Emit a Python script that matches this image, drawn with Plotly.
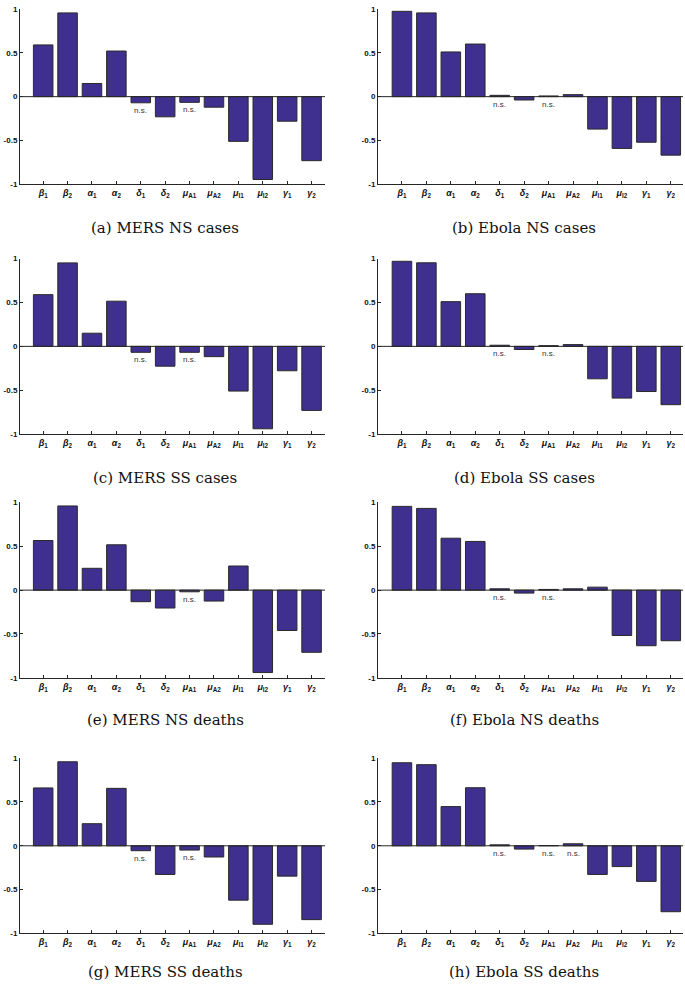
import plotly.graph_objects as go

W, H = 685, 991

params = ["β1", "β2", "α1", "α2", "δ1", "δ2", "μA1", "μA2", "μI1", "μI2", "γ1", "γ2"]
tick_labels = [
    "<b><i>β</i><sub>1</sub></b>", "<b><i>β</i><sub>2</sub></b>",
    "<b><i>α</i><sub>1</sub></b>", "<b><i>α</i><sub>2</sub></b>",
    "<b><i>δ</i><sub>1</sub></b>", "<b><i>δ</i><sub>2</sub></b>",
    "<b><i>μ</i><sub>A1</sub></b>", "<b><i>μ</i><sub>A2</sub></b>",
    "<b><i>μ</i><sub>I1</sub></b>", "<b><i>μ</i><sub>I2</sub></b>",
    "<b><i>γ</i><sub>1</sub></b>", "<b><i>γ</i><sub>2</sub></b>",
]
y_ticks = [-1, -0.5, 0, 0.5, 1]
y_tick_text = ["-1", "-0.5", "0", "0.5", "1"]

mers_ns_cases = [0.59, 0.955, 0.15, 0.52, -0.07, -0.23, -0.065, -0.12, -0.51, -0.945, -0.28, -0.73]
ebola_ns_cases = [0.973, 0.955, 0.51, 0.60, 0.015, -0.038, 0.008, 0.023, -0.37, -0.59, -0.52, -0.667]
mers_ss_cases = [0.59, 0.952, 0.15, 0.515, -0.068, -0.226, -0.068, -0.117, -0.51, -0.94, -0.278, -0.73]
ebola_ss_cases = [0.97, 0.953, 0.51, 0.60, 0.013, -0.036, 0.008, 0.02, -0.37, -0.59, -0.515, -0.665]
mers_ns_deaths = [0.566, 0.96, 0.249, 0.517, -0.132, -0.204, -0.019, -0.125, 0.275, -0.94, -0.46, -0.709]
ebola_ns_deaths = [0.955, 0.932, 0.592, 0.555, 0.015, -0.034, 0.008, 0.015, 0.034, -0.517, -0.634, -0.577]
mers_ss_deaths = [0.66, 0.958, 0.252, 0.655, -0.056, -0.327, -0.049, -0.128, -0.62, -0.895, -0.346, -0.842]
ebola_ss_deaths = [0.947, 0.925, 0.447, 0.662, 0.011, -0.038, 0.003, 0.023, -0.327, -0.237, -0.406, -0.752]

captions = ["(a) MERS NS cases", "(b) Ebola NS cases", "(c) MERS SS cases", "(d) Ebola SS cases",
            "(e) MERS NS deaths", "(f) Ebola NS deaths", "(g) MERS SS deaths", "(h) Ebola SS deaths"]
panel_values = [mers_ns_cases, ebola_ns_cases, mers_ss_cases, ebola_ss_cases,
                mers_ns_deaths, ebola_ns_deaths, mers_ss_deaths, ebola_ss_deaths]
# indices (into params) flagged as not significant
ns_flags = [[4, 6], [4, 6], [4, 6], [4, 6], [6], [4, 6], [4, 6], [4, 6, 7]]

BAR = "#3F2F8F"
EDGE = "#2a2a2a"
AX = "#262626"

row_px = [(5, 182), (257, 434), (503, 680), (761, 938)]
cap_px = [226, 478, 723, 977]
col_px = [(20, 325), (378, 683)]
col_range = [[0.05, 12.55], [0.02, 12.5]]
cap_x_px = [165, 524]

fig = go.Figure()
xs = list(range(1, 13))

for i, vals in enumerate(panel_values):
    r, c = divmod(i, 2)
    n = i + 1
    xa = "x" if n == 1 else f"x{n}"
    ya = "y" if n == 1 else f"y{n}"
    fig.add_trace(go.Bar(
        x=xs, y=vals, xaxis=xa, yaxis=ya, width=0.8,
        marker=dict(color=BAR, line=dict(color=EDGE, width=1)),
        showlegend=False, hoverinfo="skip",
    ))
    top, bot = row_px[r]
    left, right = col_px[c]
    fig.layout[f"xaxis{'' if n == 1 else n}"] = dict(
        domain=[left / W, right / W], range=col_range[c], anchor=ya,
        tickmode="array", tickvals=xs, ticktext=tick_labels,
        ticks="inside", ticklen=3, tickcolor=AX, showline=True, linecolor=AX, linewidth=1,
        showgrid=False, zeroline=False, fixedrange=True,
        tickfont=dict(family="Liberation Sans", size=9, color="#111"),
    )
    fig.layout[f"yaxis{'' if n == 1 else n}"] = dict(
        domain=[1 - bot / H, 1 - top / H], range=[-1, 1], anchor=xa,
        tickmode="array", tickvals=y_ticks, ticktext=[f"<b>{t}</b>" for t in y_tick_text],
        ticks="inside", ticklen=3, tickcolor=AX, showline=True, linecolor=AX, linewidth=1,
        showgrid=False, zeroline=False, fixedrange=True,
        tickfont=dict(family="Liberation Sans", size=8, color="#111"),
    )
    fig.add_shape(type="line", xref=f"{xa} domain", yref=ya, x0=0, x1=1, y0=0, y1=0,
                  line=dict(color=AX, width=1))
    for k in ns_flags[i]:
        fig.add_annotation(x=xs[k], y=min(vals[k], 0), xref=xa, yref=ya, text="n.s.",
                           showarrow=False, yanchor="top", yshift=-1,
                           font=dict(family="Liberation Sans", size=8, color="#333"))
    fig.add_annotation(x=cap_x_px[c] / W, y=1 - cap_px[r] / H, xref="paper", yref="paper",
                       text=captions[i], showarrow=False, xanchor="center", yanchor="middle",
                       font=dict(family="DejaVu Serif", size=15, color="#111"))

fig.update_layout(
    width=W, height=H, margin=dict(l=0, r=0, t=0, b=0),
    paper_bgcolor="white", plot_bgcolor="white", bargap=0.2,
)

fig.write_html("out.html", config={"displayModeBar": False, "staticPlot": True},
               post_script="document.body.style.margin='0';document.body.style.overflow='hidden';")
